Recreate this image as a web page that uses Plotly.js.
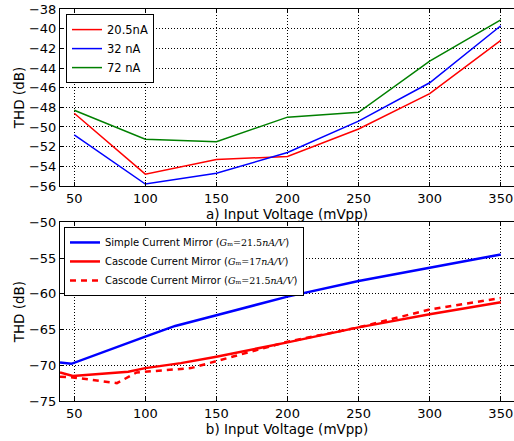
<!DOCTYPE html>
<html>
<head>
<meta charset="utf-8">
<script src="https://cdn.plot.ly/plotly-3.0.1.min.js"></script>
<style>html,body{margin:0;padding:0;background:#fff}#chart{width:514px;height:441px}</style>
</head>
<body>
<div id="chart"></div>
<script>
// ---- Panel a) data ----
const voltA = [50, 100, 150, 200, 250, 300, 350];
const thd205nA = [-48.6, -54.8, -53.3, -53.0, -50.2, -46.6, -41.2];
const thd32nA  = [-50.8, -55.8, -54.7, -52.6, -49.4, -45.5, -39.7];
const thd72nA  = [-48.3, -51.25, -51.5, -49.0, -48.5, -43.3, -39.1];

// ---- Panel b) data ----
const voltSimple = [40, 48, 100, 121, 150, 200, 250, 300, 350];
const thdSimple  = [-69.6, -69.8, -66.0, -64.5, -63.0, -60.4, -58.2, -56.3, -54.5];
const voltCasc17 = [40, 49, 88, 100, 125, 150, 200, 250, 300, 350];
const thdCasc17  = [-71.0, -71.5, -70.9, -70.4, -69.7, -68.8, -66.8, -64.7, -62.85, -61.2];
const voltCasc215 = [40, 49, 80, 94, 132, 150, 200, 250, 270, 300, 350];
const thdCasc215  = [-71.6, -71.7, -72.5, -71.0, -70.4, -69.4, -66.7, -64.7, -63.7, -62.2, -60.6];

const xTicks = [50, 100, 150, 200, 250, 300, 350];

const FONT = 'DejaVu Sans, sans-serif';
const SERIF = "'DejaVu Serif', serif";
const gm = (v) => '(<span style="font-family:' + SERIF + ';font-size:9.5px"><i>G</i>\u2098=' + v + '<i>nA/V</i></span>)';

const traces = [
  {x: voltA, y: thd205nA, type: 'scatter', mode: 'lines', name: '20.5nA', line: {color: '#ff0000', width: 1.5}, xaxis: 'x', yaxis: 'y', legend: 'legend'},
  {x: voltA, y: thd32nA,  type: 'scatter', mode: 'lines', name: '32 nA',  line: {color: '#0000ff', width: 1.5}, xaxis: 'x', yaxis: 'y', legend: 'legend'},
  {x: voltA, y: thd72nA,  type: 'scatter', mode: 'lines', name: '72 nA',  line: {color: '#008000', width: 1.5}, xaxis: 'x', yaxis: 'y', legend: 'legend'},
  {x: voltSimple, y: thdSimple, type: 'scatter', mode: 'lines', name: 'Simple Current Mirror ' + gm('21.5'), line: {color: '#0000ff', width: 2.5}, xaxis: 'x2', yaxis: 'y2', legend: 'legend2'},
  {x: voltCasc17, y: thdCasc17, type: 'scatter', mode: 'lines', name: 'Cascode Current Mirror ' + gm('17'), line: {color: '#ff0000', width: 2.5}, xaxis: 'x2', yaxis: 'y2', legend: 'legend2'},
  {x: voltCasc215, y: thdCasc215, type: 'scatter', mode: 'lines', name: 'Cascode Current Mirror ' + gm('21.5'), line: {color: '#ff0000', width: 2.5, dash: '6px,5px'}, xaxis: 'x2', yaxis: 'y2', legend: 'legend2'}
];

const axBase = {
  showline: true, linecolor: '#000', linewidth: 1, mirror: 'ticks',
  ticks: 'inside', ticklen: 4, tickwidth: 1, tickcolor: '#000',
  showgrid: true, gridcolor: '#000', gridwidth: 1, griddash: '1px,2px',
  zeroline: false, tickfont: {family: FONT, size: 13, color: '#000'}
};

const layout = {
  width: 514, height: 441,
  margin: {l: 60, r: 0, t: 9, b: 40},
  paper_bgcolor: '#fff', plot_bgcolor: '#fff',
  font: {family: FONT, color: '#000'},
  showlegend: true,
  xaxis: Object.assign({}, axBase, {
    anchor: 'y', range: [40, 359.3], tickmode: 'array', tickvals: xTicks, ticktext: xTicks.map(String),
    title: {text: 'a) Input Voltage (mVpp)', font: {family: FONT, size: 13.5}, standoff: 3}
  }),
  yaxis: Object.assign({}, axBase, {
    anchor: 'x', domain: [0.5485, 1], range: [-56, -38], dtick: 2, tick0: -56,
    title: {text: 'THD (dB)', font: {family: FONT, size: 13.5}, standoff: 1}
  }),
  xaxis2: Object.assign({}, axBase, {
    anchor: 'y2', range: [40, 359.3], tickmode: 'array', tickvals: xTicks, ticktext: xTicks.map(String),
    title: {text: 'b) Input Voltage (mVpp)', font: {family: FONT, size: 13.5}, standoff: 1}
  }),
  yaxis2: Object.assign({}, axBase, {
    anchor: 'x2', domain: [0, 0.4559], range: [-75, -50], dtick: 5, tick0: -75,
    title: {text: 'THD (dB)', font: {family: FONT, size: 13.5}, standoff: 1}
  }),
  legend: {
    x: 0.0132, y: 0.987, xanchor: 'left', yanchor: 'top',
    bgcolor: '#fff', bordercolor: '#000', borderwidth: 1,
    font: {family: FONT, size: 11.5, color: '#000'}
  },
  legend2: {
    x: 0.0088, y: 0.444, xanchor: 'left', yanchor: 'top',
    bgcolor: '#fff', bordercolor: '#000', borderwidth: 1,
    font: {family: FONT, size: 10, color: '#000'}
  }
};

Plotly.newPlot('chart', traces, layout, {displayModeBar: false, staticPlot: true});
</script>
</body>
</html>
